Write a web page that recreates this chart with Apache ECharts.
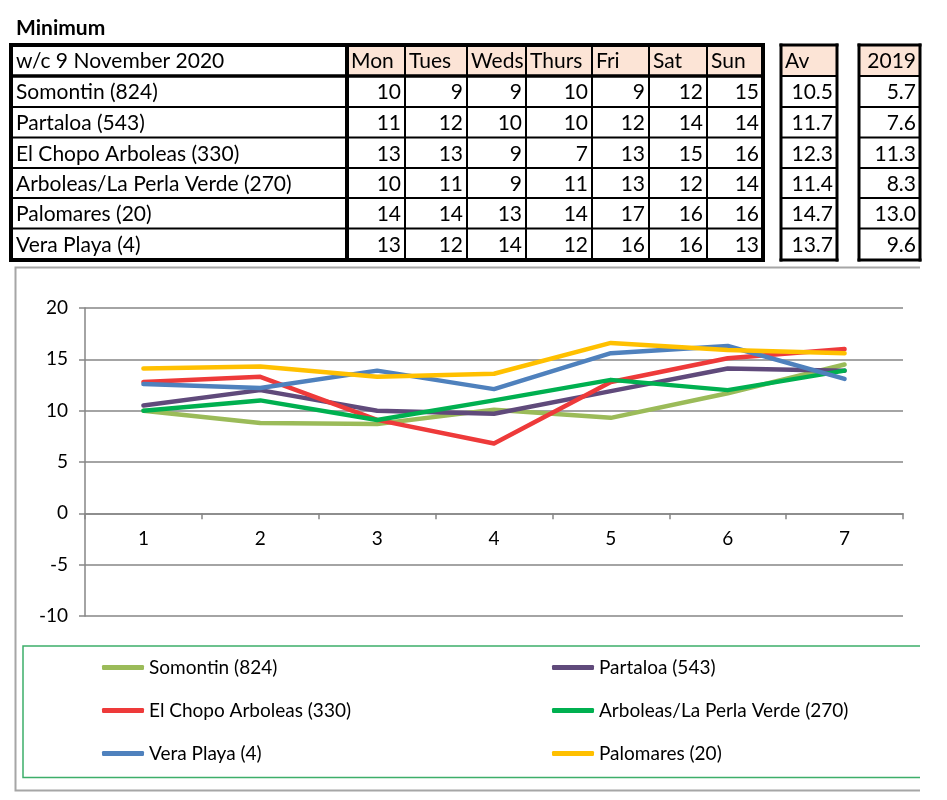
<!DOCTYPE html>
<html>
<head>
<meta charset="utf-8">
<script src="https://cdn.jsdelivr.net/npm/echarts@6/dist/echarts.min.js"></script>
<style>
html,body{margin:0;padding:0;background:#fff;}
#main{width:947px;height:800px;}
</style>
</head>
<body>
<div id="main"></div>
<script>
// ---- Table data ----
const titleText = 'Minimum';
const weekLabel = 'w/c 9 November 2020';
const days = ['Mon', 'Tues', 'Weds', 'Thurs', 'Fri', 'Sat', 'Sun'];
const stations = ['Somontin (824)', 'Partaloa (543)', 'El Chopo Arboleas (330)', 'Arboleas/La Perla Verde (270)', 'Palomares (20)', 'Vera Playa (4)'];
const tableSomontin = [10, 9, 9, 10, 9, 12, 15];
const tablePartaloa = [11, 12, 10, 10, 12, 14, 14];
const tableElChopo = [13, 13, 9, 7, 13, 15, 16];
const tableArboleas = [10, 11, 9, 11, 13, 12, 14];
const tablePalomares = [14, 14, 13, 14, 17, 16, 16];
const tableVera = [13, 12, 14, 12, 16, 16, 13];
const avgLabel = 'Av';
const avgValues = ['10.5', '11.7', '12.3', '11.4', '14.7', '13.7'];
const prevLabel = '2019';
const prevValues = ['5.7', '7.6', '11.3', '8.3', '13.0', '9.6'];

// ---- Chart data ----
const xCategories = ['1', '2', '3', '4', '5', '6', '7'];
const seriesNames = ['Somontin (824)', 'Partaloa (543)', 'El Chopo Arboleas (330)', 'Arboleas/La Perla Verde (270)', 'Vera Playa (4)', 'Palomares (20)'];
const chartSomontin = [10.0, 8.8, 8.7, 10.1, 9.3, 11.7, 14.5];
const chartPartaloa = [10.5, 12.0, 10.0, 9.7, 11.9, 14.1, 13.9];
const chartElChopo = [12.8, 13.3, 9.1, 6.8, 12.8, 15.1, 16.0];
const chartArboleas = [10.0, 11.0, 9.1, 11.0, 13.0, 12.0, 13.9];
const chartVera = [12.6, 12.2, 13.9, 12.1, 15.6, 16.3, 13.1];
const chartPalomares = [14.1, 14.3, 13.3, 13.6, 16.6, 15.9, 15.6];
const yTicks = {min: -10, max: 20, interval: 5};

// ---- Styles / layout ----
const seriesColors = ['#9BBB59', '#604A7B', '#EE3A3A', '#00B050', '#4F81BD', '#FFC000'];
const FONT = 'Lato, "Open Sans", sans-serif';
const headerFill = '#FCE4D6';
const colX = [11, 347, 405, 467, 526, 592, 649, 707, 763];
const rowY = [45, 76, 107, 137.5, 168, 198, 228.5, 260];
const avX = [781, 837];
const prevX = [859, 920];
const gridTop = 308, gridBottomPx = 616;

const tableRows = [tableSomontin, tablePartaloa, tableElChopo, tableArboleas, tablePalomares, tableVera];

const g = [];
function hLine(x1, x2, y, w) { g.push({type: 'rect', shape: {x: x1 - w / 2, y: y - w / 2, width: x2 - x1 + w, height: w}, style: {fill: '#000'}, z: 10}); }
function vLine(x, y1, y2, w) { g.push({type: 'rect', shape: {x: x - w / 2, y: y1 - w / 2, width: w, height: y2 - y1 + w}, style: {fill: '#000'}, z: 10}); }
function fillRect(x1, y1, x2, y2, c) { g.push({type: 'rect', shape: {x: x1, y: y1, width: x2 - x1, height: y2 - y1}, style: {fill: c}, z: 5}); }
function txt(s, x, y, align, opts) {
  g.push({type: 'text', x: x, y: y, z: 20, style: Object.assign({text: s, fill: '#000', font: '21px ' + FONT, align: align, verticalAlign: 'middle'}, opts || {})});
}

// Title
txt(titleText, 16, 28, 'left', {font: 'bold 21px ' + FONT});

// Main table header fills
fillRect(colX[1], rowY[0], colX[8], rowY[1], headerFill);
fillRect(avX[0], rowY[0], avX[1], rowY[1], headerFill);
fillRect(prevX[0], rowY[0], prevX[1], rowY[1], headerFill);

// Main table lines
for (let r = 1; r < rowY.length - 1; r++) hLine(colX[0], colX[8], rowY[r], r === 1 ? 3.5 : 2);
hLine(colX[0], colX[8], rowY[0], 4);
hLine(colX[0], colX[8], rowY[rowY.length - 1], 4);
for (let c = 0; c < colX.length; c++) vLine(colX[c], rowY[0], rowY[rowY.length - 1], (c === 0 || c === 1 || c === colX.length - 1) ? 4 : 2);

// Side tables
[avX, prevX].forEach(function (xs) {
  for (let r = 1; r < rowY.length - 1; r++) hLine(xs[0], xs[1], rowY[r], 2);
  hLine(xs[0], xs[1], rowY[0], 3);
  hLine(xs[0], xs[1], rowY[rowY.length - 1], 3);
  vLine(xs[0], rowY[0], rowY[rowY.length - 1], 3);
  vLine(xs[1], rowY[0], rowY[rowY.length - 1], 3);
});

// Header texts
txt(weekLabel, colX[0] + 5, (rowY[0] + rowY[1]) / 2 + 1, 'left');
days.forEach(function (d, i) { txt(d, colX[i + 1] + 4, (rowY[0] + rowY[1]) / 2 + 1, 'left'); });
txt(avgLabel, avX[0] + 4, (rowY[0] + rowY[1]) / 2 + 1, 'left');
txt(prevLabel, prevX[1] - 4, (rowY[0] + rowY[1]) / 2 + 1, 'right');

// Body texts
stations.forEach(function (s, r) {
  const cy = (rowY[r + 1] + rowY[r + 2]) / 2 + 1;
  txt(s, colX[0] + 5, cy, 'left');
  tableRows[r].forEach(function (v, i) { txt(String(v), colX[i + 2] - 4, cy, 'right'); });
  txt(avgValues[r], avX[1] - 4, cy, 'right');
  txt(prevValues[r], prevX[1] - 4, cy, 'right');
});

// Chart frame (gray) and legend box (green)
const frameColor = '#A6A6A6';
g.push({type: 'polyline', shape: {points: [[920, 267.5], [15.5, 267.5], [15.5, 790.5], [920, 790.5]]}, style: {stroke: frameColor, lineWidth: 2, fill: null}, z: 1});
g.push({type: 'polyline', shape: {points: [[920, 646], [23, 646], [23, 777.5], [920, 777.5]]}, style: {stroke: '#3DAE6A', lineWidth: 1.5, fill: null}, z: 1});

const chartData = [chartSomontin, chartPartaloa, chartElChopo, chartArboleas, chartVera, chartPalomares];

const legendBase = {
  orient: 'vertical', itemGap: 24, itemWidth: 42, itemHeight: 5, icon: 'roundRect', padding: 0,
  textStyle: {fontSize: 19, fontFamily: FONT, color: '#000'},
  selectedMode: false, top: 658
};

// offset of the x axis so that it sits on the zero line
const zeroOffset = -(gridBottomPx - gridTop) * (0 - yTicks.min) / (yTicks.max - yTicks.min);

const option = {
  backgroundColor: '#fff',
  animation: false,
  color: seriesColors,
  grid: {left: 85, right: 44, top: gridTop, bottom: 800 - gridBottomPx, containLabel: false},
  legend: [
    Object.assign({}, legendBase, {left: 102, data: [seriesNames[0], seriesNames[2], seriesNames[4]]}),
    Object.assign({}, legendBase, {left: 552, data: [seriesNames[1], seriesNames[3], seriesNames[5]]})
  ],
  xAxis: {
    type: 'category', data: xCategories, boundaryGap: true, position: 'bottom', offset: zeroOffset,
    axisLine: {onZero: false, lineStyle: {color: '#868686', width: 1.5}},
    axisTick: {show: true, length: 6, lineStyle: {color: '#868686', width: 1.5}},
    axisLabel: {fontSize: 19, fontFamily: FONT, color: '#000', margin: 16},
    splitLine: {show: false}
  },
  yAxis: {
    type: 'value', min: yTicks.min, max: yTicks.max, interval: yTicks.interval,
    axisLine: {show: true, lineStyle: {color: '#868686', width: 1.5}},
    axisTick: {show: true, length: 6, lineStyle: {color: '#868686', width: 1.5}},
    axisLabel: {fontSize: 19, fontFamily: FONT, color: '#000', margin: 17},
    splitLine: {show: true, lineStyle: {color: '#868686', width: 1.5}}
  },
  series: seriesNames.map(function (n, i) {
    return {name: n, type: 'line', data: chartData[i], symbol: 'none', showSymbol: false,
      lineStyle: {width: 4.5, cap: 'round', join: 'round', color: seriesColors[i]},
      itemStyle: {color: seriesColors[i]}, z: 3 + i};
  }),
  graphic: {elements: g}
};

const chart = echarts.init(document.getElementById('main'), null, {renderer: 'canvas'});
chart.setOption(option);
</script>
</body>
</html>
